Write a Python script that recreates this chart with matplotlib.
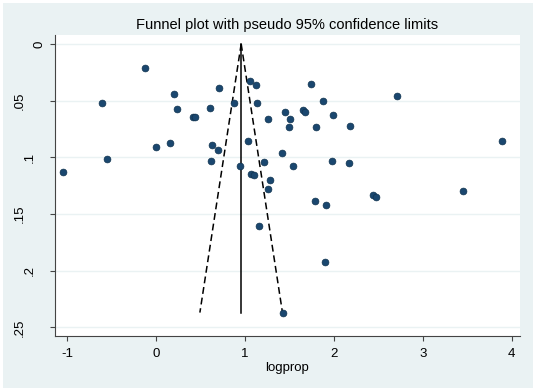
import matplotlib
matplotlib.use('Agg')
import matplotlib.pyplot as plt
import matplotlib.transforms as mtransforms
from matplotlib.patches import Rectangle

plt.rcParams['font.family'] = ['Liberation Sans', 'DejaVu Sans']

# study effects (logprop) and their standard errors
logprop = [-1.044, -0.605, -0.549, -0.128, -0.001, 0.160, 0.201, 0.238, 0.418, 0.441,
           0.605, 0.614, 0.629, 0.696, 0.710, 0.873, 0.944, 1.030, 1.056, 1.067,
           1.098, 1.124, 1.138, 1.152, 1.219, 1.262, 1.264, 1.281, 1.416, 1.425,
           1.445, 1.493, 1.507, 1.537, 1.652, 1.678, 1.739, 1.791, 1.802, 1.881,
           1.897, 1.906, 1.975, 1.990, 2.168, 2.184, 2.443, 2.476, 2.710, 3.452,
           3.891]
se = [0.1134, 0.0523, 0.1015, 0.0209, 0.0909, 0.0871, 0.0444, 0.0576, 0.0641, 0.0641,
      0.0567, 0.1034, 0.0891, 0.0933, 0.0393, 0.0521, 0.1076, 0.0853, 0.0326, 0.1147,
      0.1156, 0.0360, 0.0521, 0.1606, 0.1039, 0.0660, 0.1281, 0.1196, 0.0962, 0.2374,
      0.0602, 0.0730, 0.0664, 0.1079, 0.0585, 0.0600, 0.0353, 0.1382, 0.0732, 0.0506,
      0.1926, 0.1419, 0.1034, 0.0626, 0.1050, 0.0726, 0.1334, 0.1352, 0.0461, 0.1300,
      0.0859]

pooled = 0.957
se_max = 0.237

x_ticks = [-1, 0, 1, 2, 3, 4]
y_ticks = [0, 0.05, 0.1, 0.15, 0.2, 0.25]
y_tick_labels = ['0', '.05', '.1', '.15', '.2', '.25']

bg = '#EAF2F3'
navy = '#1A476F'

fig = plt.figure(figsize=(5.36, 3.91), dpi=100, facecolor='white')
fig.patches.append(Rectangle((3/536, 3/391), 530/536, 385/391, transform=fig.transFigure,
                             facecolor=bg, edgecolor='none', zorder=-10))

ax = fig.add_axes([55/536, 55.3/391, 465/536, 300.7/391])
ax.set_facecolor('white')

# funnel: pooled estimate and pseudo 95% limits
ax.plot([pooled, pooled], [0, se_max], color='black', lw=1.1, zorder=2)
ax.plot([pooled, pooled - 1.96*se_max], [0, se_max], color='black', lw=1.1,
        dashes=(4.5, 2.5), zorder=2)
ax.plot([pooled, pooled + 1.96*se_max], [0, se_max], color='black', lw=1.1,
        dashes=(4.5, 2.5), zorder=2)

ax.scatter(logprop, se, s=24, color=navy, edgecolors='#10324f', linewidths=0.5, zorder=3)

ax.set_xlim(-1.137, 4.093)
ax.set_ylim(0.2574, -0.0079)

for y in y_ticks:
    ax.axhline(y, color=bg, lw=1.0, zorder=1)

for s in ['top', 'right']:
    ax.spines[s].set_visible(False)
for s in ['left', 'bottom']:
    ax.spines[s].set_color('#444444')
    ax.spines[s].set_linewidth(0.8)

ax.set_xticks(x_ticks)
ax.set_xticklabels([str(v) for v in x_ticks])
ax.tick_params(axis='x', length=3.6, width=0.8, color='#444444', pad=5, labelsize=9.5)
ax.set_yticks(y_ticks)
ax.set_yticklabels([])
ax.tick_params(axis='y', length=3.6, width=0.8, color='#444444')

# stata style vertical y labels
for y, lab in zip(y_ticks, y_tick_labels):
    off = mtransforms.ScaledTranslation(-(6 + 9.75*len(lab))/100, 0, fig.dpi_scale_trans)
    ax.text(0, y, lab, transform=ax.get_yaxis_transform() + off, rotation=90,
            ha='center', va='center', fontsize=9.5, clip_on=False)

ax.set_xlabel('logprop', fontsize=9.5, labelpad=2)
fig.text(287.5/536, 1 - 25/391, 'Funnel plot with pseudo 95% confidence limits',
         ha='center', va='center', fontsize=10.5)

fig.savefig('out.png', dpi=100)
